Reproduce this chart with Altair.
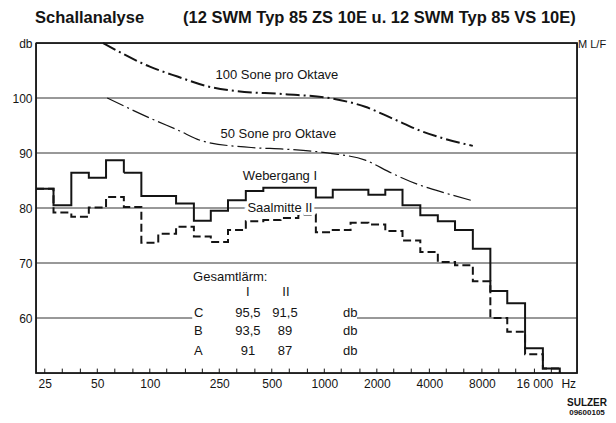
import math
import altair as alt
import pandas as pd

# ---------------- data ----------------
bands = [25, 31.5, 40, 50, 63, 80, 100, 125, 160, 200, 250, 315, 400, 500, 630,
         800, 1000, 1250, 1600, 2000, 2500, 3150, 4000, 5000, 6300, 8000, 10000,
         12500, 16000, 20000]
axis_bands = bands + [25000]

webergang = [83.5, 80.5, 86.4, 85.5, 88.7, 86.4, 82.2, 82.2, 80.8, 77.7, 79.5, 81.4,
             83.1, 83.7, 83.7, 83.7, 81.9, 83.3, 83.3, 82.4, 83.3, 80.5, 78.7, 77.6,
             76.0, 72.6, 64.9, 62.7, 54.5, 50.8]
saalmitte = [83.5, 79.2, 78.4, 80.1, 82.0, 80.2, 73.7, 75.3, 76.6, 74.8, 73.8, 76.0,
             77.6, 77.8, 78.2, 78.8, 75.6, 76.0, 77.3, 77.0, 75.8, 74.1, 72.0, 70.2,
             69.6, 66.7, 60.0, 57.5, 53.4, 50.8]

sone100_f = [54, 100, 144, 216, 305, 594, 1108, 1716, 2446, 3650, 4760, 7095]
sone100_db = [110, 105.7, 103.9, 102.1, 101.3, 100.7, 99.9, 98.4, 96.3, 93.9, 92.7, 91.3]
sone50_f = [57, 101, 144, 204, 381, 594, 932, 1108, 1716, 2446, 3500, 4960, 7095]
sone50_db = [100, 96.3, 94.2, 92.1, 91.0, 90.7, 90.2, 89.9, 88.7, 86.3, 84.2, 82.7, 81.3]

tick_values = [25, 50, 100, 250, 500, 1000, 2000, 4000, 8000, 16000, 25000]
tick_texts = ["25", "50", "100", "250", "500", "1000", "2000", "4000", "8000", "16 000", "Hz"]
y_values = [60, 70, 80, 90, 100, 110]
grid_values = [60, 70, 80, 90, 100]
y_min, y_max = 50, 110

# annotations (frequency, dB, text)
center_notes = [
    (535, 104.2, "100 Sone pro Oktave"),
    (545, 93.45, "50 Sone pro Oktave"),
    (557, 85.8, "Webergang I"),
    (365, 64.7, "I"), (603, 64.7, "II"),
    (365, 60.96, "95,5"), (595, 60.96, "91,5"),
    (365, 57.64, "93,5"), (595, 57.64, "89"),
    (365, 54.0, "91"), (595, 54.0, "87"),
]
left_notes = [
    (177, 67.45, "Gesamtlärm:"),
    (179, 60.96, "C"), (179, 57.64, "B"), (179, 54.0, "A"),
    (1280, 60.96, "db"), (1280, 57.64, "db"), (1280, 54.0, "db"),
]
halo_notes = [(557, 80.0, "Saalmitte II")]

W, H = 541, 330

# ---------------- derived tables ----------------
def band_edges(c):
    n = len(c)
    lo, hi = [], []
    for i in range(n):
        lo.append(c[0] / 2 ** (1 / 6) if i == 0 else math.sqrt(c[i - 1] * c[i]))
        hi.append(c[-1] * 2 ** (1 / 6) if i == n - 1 else math.sqrt(c[i] * c[i + 1]))
    return lo, hi

lo_all, hi_all = band_edges(axis_bands)
f_min, f_max = lo_all[0], hi_all[-1]

rows = []
for name, vals in (("Webergang I", webergang), ("Saalmitte II", saalmitte)):
    k = 0
    for i, v in enumerate(vals):
        rows.append({"series": name, "f": lo_all[i], "db": v, "k": k}); k += 1
        rows.append({"series": name, "f": hi_all[i], "db": v, "k": k}); k += 1
    rows.append({"series": name, "f": hi_all[len(vals) - 1], "db": y_min, "k": k})
step_df = pd.DataFrame(rows)

s100 = pd.DataFrame({"f": sone100_f, "db": sone100_db})
s50 = pd.DataFrame({"f": sone50_f, "db": sone50_db})
ticks_df = pd.DataFrame({"f": bands, "db": [y_min] * len(bands), "db2": [y_min + 0.8] * len(bands)})
grid_df = pd.DataFrame({"f": [f_min] * len(grid_values), "f2": [f_max] * len(grid_values),
                        "db": grid_values})
frame_df = pd.DataFrame({"f": [f_min, f_max, f_max, f_min, f_min],
                         "db": [y_max, y_max, y_min, y_min, y_max],
                         "k": [0, 1, 2, 3, 4]})
gap_df = pd.DataFrame({"f": [175], "f2": [1540], "db": [59.5], "db2": [60.5]})
cn_df = pd.DataFrame(center_notes, columns=["f", "db", "t"])
ln_df = pd.DataFrame(left_notes, columns=["f", "db", "t"])
hn_df = pd.DataFrame(halo_notes, columns=["f", "db", "t"])

label_expr = " : ".join(f"datum.value == {v} ? '{t}'" for v, t in zip(tick_values, tick_texts)) + " : ''"

FONT = "Liberation Sans"
INK = "#141414"

x_enc = alt.X("f:Q", scale=alt.Scale(type="log", domain=[f_min, f_max], nice=False),
              axis=alt.Axis(values=axis_bands, labelExpr=label_expr, ticks=False, domain=False,
                            grid=False, labelFontSize=12, labelPadding=5, labelOverlap=False,
                            labelFlush=False, labelColor=INK, labelFont=FONT, title=None))
y_enc = alt.Y("db:Q", scale=alt.Scale(domain=[y_min, y_max], nice=False, zero=False),
              axis=alt.Axis(values=y_values, labelExpr="datum.value == 110 ? 'db' : datum.label",
                            ticks=False, domain=False, grid=False,
                            labelFontSize=12, labelPadding=4, labelColor=INK, labelFont=FONT,
                            title=None))

grid = alt.Chart(grid_df).mark_rule(color="#333", strokeWidth=1).encode(x=x_enc, x2="f2:Q", y=y_enc)
gap = alt.Chart(gap_df).mark_rect(color="white").encode(x=x_enc, x2="f2:Q", y=y_enc, y2="db2:Q")
frame = alt.Chart(frame_df).mark_line(color=INK, strokeWidth=1.5, strokeJoin="miter").encode(
    x=x_enc, y=y_enc, order="k:Q")

steps = alt.Chart(step_df).mark_line(color=INK, strokeWidth=2, strokeJoin="miter").encode(
    x=x_enc, y=y_enc, order="k:Q", detail="series:N",
    strokeDash=alt.StrokeDash("series:N",
                              scale=alt.Scale(domain=["Webergang I", "Saalmitte II"],
                                              range=[[1, 0], [8, 4]]),
                              legend=None),
)

line100 = alt.Chart(s100).mark_line(color=INK, strokeWidth=2, interpolate="monotone",
                                     strokeDash=[14, 4, 2, 4]).encode(x=x_enc, y=y_enc)
line50 = alt.Chart(s50).mark_line(color=INK, strokeWidth=1.2, interpolate="monotone",
                                   strokeDash=[18, 4, 2, 4]).encode(x=x_enc, y=y_enc)

ticks = alt.Chart(ticks_df).mark_rule(color=INK, strokeWidth=1).encode(x=x_enc, y=y_enc, y2="db2:Q")

txt_c = alt.Chart(cn_df).mark_text(font=FONT, fontSize=13, color=INK, align="center",
                                   baseline="middle").encode(x=x_enc, y=y_enc, text="t:N")
txt_l = alt.Chart(ln_df).mark_text(font=FONT, fontSize=13, color=INK, align="left",
                                   baseline="middle").encode(x=x_enc, y=y_enc, text="t:N")
halo = alt.Chart(hn_df).mark_text(font=FONT, fontSize=13, color="white", stroke="white",
                                  strokeWidth=6, align="center", baseline="middle").encode(
    x=x_enc, y=y_enc, text="t:N")
txt_h = alt.Chart(hn_df).mark_text(font=FONT, fontSize=13, color=INK, align="center",
                                   baseline="middle").encode(x=x_enc, y=y_enc, text="t:N")

def px_text(t, x, y, size, weight="normal", align="left"):
    return alt.Chart(pd.DataFrame({"t": [t]})).mark_text(
        font=FONT, fontSize=size, fontWeight=weight, color=INK, align=align, baseline="middle"
    ).encode(x=alt.value(x), y=alt.value(y), text="t:N")

title1 = px_text("Schallanalyse", -1, -25, 16.5, "bold")
title2 = px_text("(12 SWM Typ 85 ZS 10E u. 12 SWM Typ 85 VS 10E)", 147, -25, 16.5, "bold")
mlf = px_text("M L/F", 542, 2, 11)
sulzer = px_text("SULZER", 551, 360, 10, "bold", "center")
code = px_text("09600105", 551, 370, 8, "bold", "center")

chart = alt.layer(
    grid, gap, line50, line100, steps, ticks, frame, txt_c, txt_l, halo, txt_h,
    title1, title2, mlf, sulzer, code
).properties(
    width=W, height=H,
    background="white",
    autosize=alt.AutoSizeParams(type="none"),
    padding={"left": 28, "top": 35, "right": 31, "bottom": 45},
).configure_view(stroke=INK, strokeWidth=1.4)

chart.save("out.html", embed_options={"renderer": "svg", "actions": False})
